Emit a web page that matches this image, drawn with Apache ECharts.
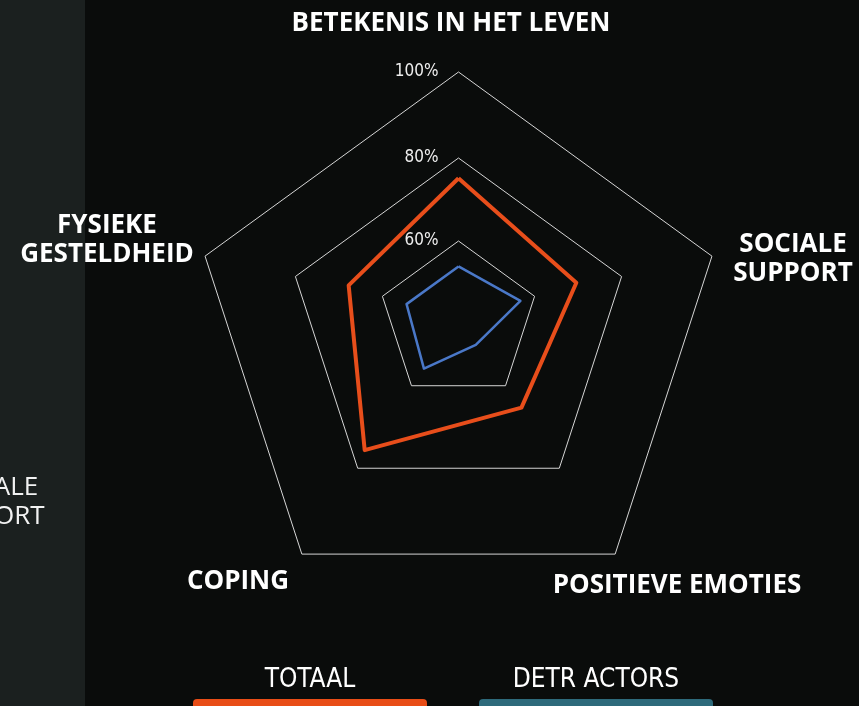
<!DOCTYPE html>
<html lang="nl">
<head>
    <meta charset="UTF-8">
    <title>Radar</title>
    <script src="https://cdn.jsdelivr.net/npm/echarts@6/dist/echarts.min.js"></script>
    <style>
        html, body { margin: 0; padding: 0; background: #0a0c0b; }
    </style>
</head>
<body>
<div id="myChart" style="width: 859px;height: 706px"></div>
</body>
<script>
    // assen (tegen de klok in, vanaf boven)
    var indicators = ['BETEKENIS IN HET LEVEN', 'FYSIEKE\nGESTELDHEID', 'COPING', 'POSITIEVE EMOTIES', 'SOCIALE\nSUPPORT'];
    var totaal = [74, 67.5, 78, 65.5, 69.5];
    var detractors = [53, 53, 54, 47, 55.5];
    var ringValues = [60, 80, 100];
    var legendNames = ['TOTAAL', 'DETR ACTORS'];

    // ringen liggen niet helemaal concentrisch in het origineel
    var ringCenters = [321, 329.5, 338.5];
    var ringRadius = [80, 171.5, 266.5];
    // plek van de as-namen
    var namePos = [[451, 24], [107, 240], [238, 582], [677, 586], [793, 259]];

    var narrow = '"Liberation Sans Narrow", "DejaVu Sans Condensed", sans-serif';
    var myChart = echarts.init(document.getElementById('myChart'));

    var radars = ringValues.map(function (v, i) {
        return {
            center: [458.5, ringCenters[i]],
            radius: ringRadius[i],
            splitNumber: 1,
            shape: 'polygon',
            indicator: indicators.map(function (n, k) {
                var ind = {name: '', min: 0, max: v};
                if (k === 0) {
                    ind.axisLabel = {show: true};
                }
                return ind;
            }),
            axisName: {show: false},
            axisLine: {show: false},
            axisTick: {show: false},
            splitArea: {show: false},
            splitLine: {lineStyle: {color: '#d6d6d6', width: 1}},
            axisLabel: {
                show: false,
                margin: 20,
                color: '#eeeeee',
                fontSize: 17,
                fontFamily: narrow,
                formatter: function (val) {
                    return val ? val + '%' : '';
                }
            }
        };
    });
    // radar voor de data
    radars.push({
        center: [458.5, 321],
        radius: 252,
        shape: 'polygon',
        splitNumber: 3,
        indicator: indicators.map(function () {
            return {name: '', min: 40, max: 100};
        }),
        axisName: {show: false},
        axisLine: {show: false},
        axisTick: {show: false},
        axisLabel: {show: false},
        splitArea: {show: false},
        splitLine: {show: false}
    });

    var graphics = [{
        type: 'rect',
        shape: {x: 0, y: 0, width: 85, height: 706},
        style: {fill: '#1b201f'},
        z: -1
    }, {
        type: 'text',
        x: -13, y: 502,
        style: {
            text: 'SOCIALE\nSUPPORT',
            fill: '#f2f2f2',
            font: '26px "Open Sans"',
            lineHeight: 29,
            textAlign: 'center',
            textVerticalAlign: 'middle'
        }
    }];
    indicators.forEach(function (n, i) {
        graphics.push({
            type: 'text',
            x: namePos[i][0], y: namePos[i][1],
            style: {
                text: n,
                fill: '#ffffff',
                font: 'bold 26px "Open Sans"',
                lineHeight: 29,
                textAlign: 'center',
                textVerticalAlign: 'middle'
            }
        });
    });

    myChart.setOption({
        backgroundColor: '#0a0c0b',
        animation: false,
        radar: radars,
        legend: {
            data: legendNames,
            left: 183,
            top: 662,
            itemWidth: 0,
            itemHeight: 0,
            itemGap: 47,
            selectedMode: false,
            formatter: function (name) {
                return '{t|' + name + '}\n{b' + legendNames.indexOf(name) + '|}';
            },
            textStyle: {
                rich: {
                    t: {
                        width: 234, align: 'center', color: '#ffffff',
                        fontSize: 26, lineHeight: 38,
                        fontFamily: narrow
                    },
                    b0: {width: 234, height: 10, backgroundColor: '#e84d17', borderRadius: [4, 4, 0, 0]},
                    b1: {width: 234, height: 10, backgroundColor: '#2d6a7b', borderRadius: [4, 4, 0, 0]}
                }
            }
        },
        graphic: graphics,
        series: [{
            type: 'radar',
            radarIndex: 3,
            symbol: 'none',
            data: [{
                name: legendNames[0],
                value: totaal,
                lineStyle: {color: '#e84e1b', width: 4},
                itemStyle: {color: '#e84e1b'}
            }, {
                name: legendNames[1],
                value: detractors,
                lineStyle: {color: '#4a78c8', width: 2.5},
                itemStyle: {color: '#4a78c8'}
            }]
        }]
    });
</script>
</html>
